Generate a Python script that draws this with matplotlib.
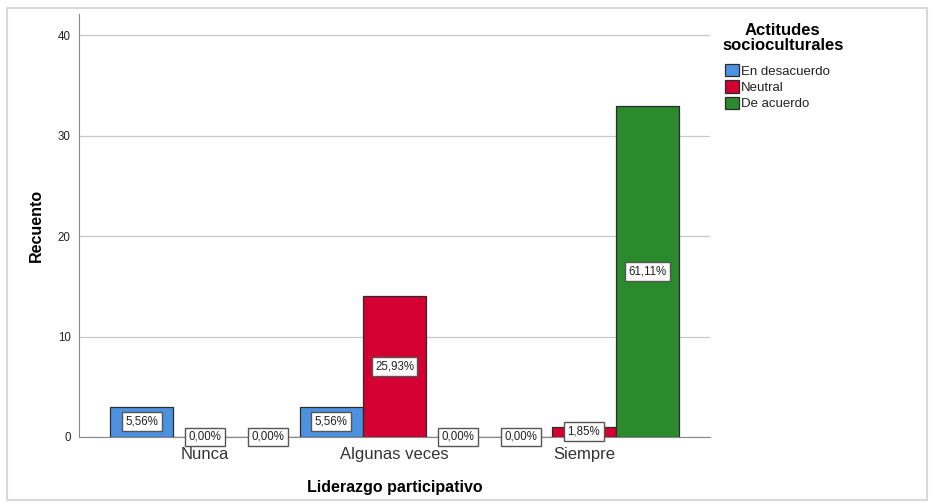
import numpy as np
import matplotlib.pyplot as plt
from matplotlib.patches import Rectangle

plt.rcParams['font.family'] = ['Liberation Sans', 'DejaVu Sans']

# Recuentos por categoría de liderazgo participativo
categorias = ['Nunca', 'Algunas veces', 'Siempre']
series = ['En desacuerdo', 'Neutral', 'De acuerdo']
en_desacuerdo = [3, 3, 0]
neutral = [0, 14, 1]
de_acuerdo = [0, 0, 33]
porc_desacuerdo = ['5,56%', '5,56%', '0,00%']
porc_neutral = ['0,00%', '25,93%', '1,85%']
porc_acuerdo = ['0,00%', '0,00%', '61,11%']

colores = ['#4d92e0', '#d40032', '#2b8a2b']

fig = plt.figure(figsize=(9.34, 5.04), dpi=100)
ax = fig.add_axes([0.0846, 0.133, 0.6755, 0.839])

x = np.arange(len(categorias))
ancho = 1 / 3
valores = [en_desacuerdo, neutral, de_acuerdo]
etiquetas = [porc_desacuerdo, porc_neutral, porc_acuerdo]

ax.set_axisbelow(True)
ax.yaxis.grid(True, color='#c8c8c8', linewidth=0.9)

for i, (vals, etq) in enumerate(zip(valores, etiquetas)):
    pos = x + (i - 1) * ancho
    barras = ax.bar(pos, vals, width=ancho, color=colores[i], edgecolor='#2b2b2b',
                    linewidth=0.9, label=series[i], zorder=2)
    for b, t in zip(barras, etq):
        ax.text(b.get_x() + b.get_width() / 2, b.get_height() / 2, t,
                ha='center', va='center', fontsize=8.3, color='#222222', zorder=4,
                bbox=dict(boxstyle='square,pad=0.3', facecolor='white',
                          edgecolor='#555555', linewidth=1.0))

ax.set_xlim(-0.665, 2.665)
ax.set_ylim(0, 42.1)
ax.set_yticks([0, 10, 20, 30, 40])
ax.set_xticks(x)
ax.set_xticklabels(categorias, fontsize=12, color='#333333')
ax.tick_params(axis='y', length=0, labelsize=8.3, pad=6, colors='#222222')
ax.tick_params(axis='x', length=0, pad=7)

for s in ['top', 'right']:
    ax.spines[s].set_visible(False)
ax.spines['left'].set_color('#888888')
ax.spines['bottom'].set_color('#888888')

ax.set_ylabel('Recuento', fontsize=11.5, fontweight='bold', labelpad=10)
ax.set_xlabel('Liderazgo participativo', fontsize=11.5, fontweight='bold', labelpad=13)

# Leyenda con título centrado aparte
fig.text(0.838, 0.955, 'Actitudes\nsocioculturales', ha='center', va='top',
         fontsize=12, fontweight='bold', linespacing=1.05)
leg = ax.legend(loc='upper left', bbox_to_anchor=(0.776, 0.873),
                bbox_transform=fig.transFigure, frameon=False, fontsize=9.5,
                handlelength=1.05, handleheight=1.05, handletextpad=0.2,
                labelspacing=0.2, borderaxespad=0, borderpad=0)
for t in leg.get_texts():
    t.set_color('#222222')

# Marco exterior
fig.patches.append(Rectangle((0.0075, 0.008), 0.9855, 0.976, transform=fig.transFigure,
                             fill=False, edgecolor='#d8d8d8', linewidth=1.5))

fig.savefig('out.png', dpi=100)
